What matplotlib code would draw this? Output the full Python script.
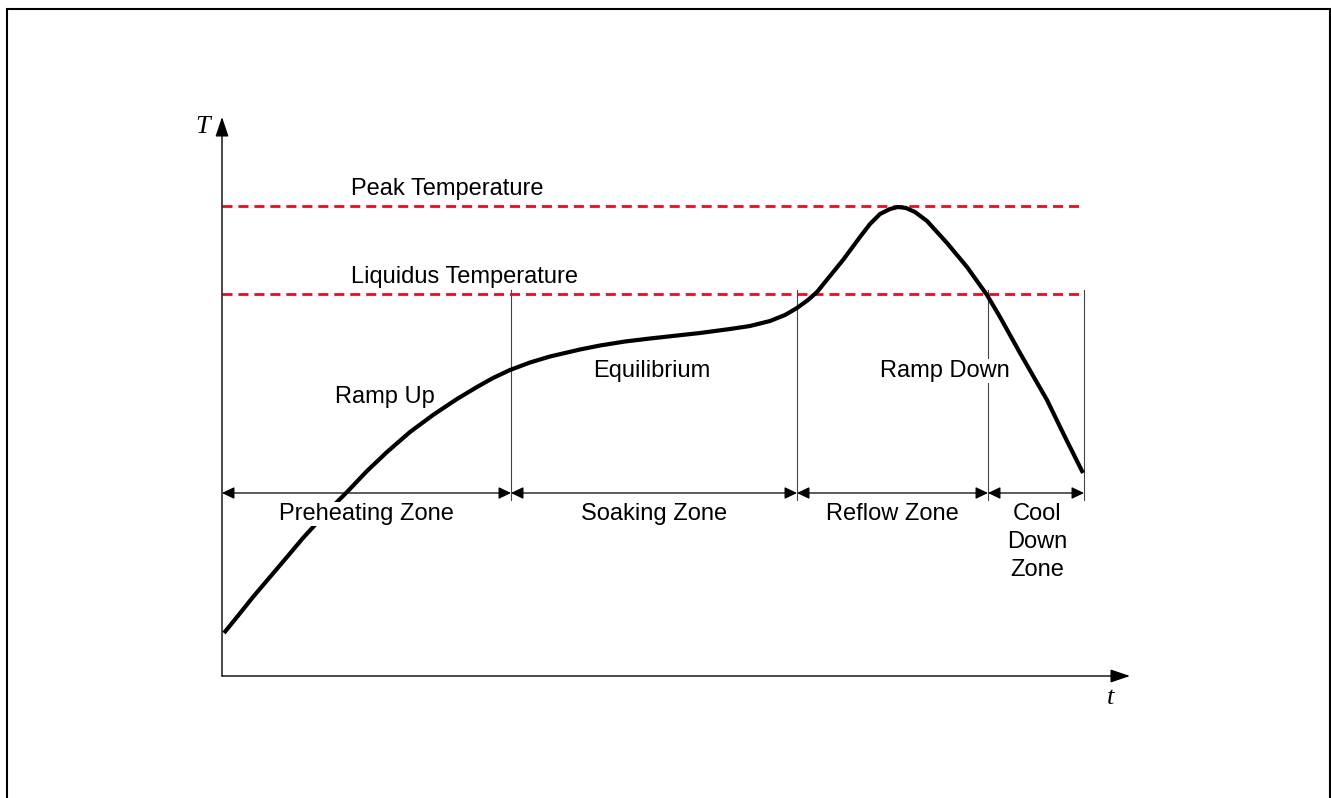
import matplotlib.pyplot as plt
from matplotlib.patches import Rectangle

# Reflow temperature profile (arbitrary units: t right, T up)
curve_t = [0.2, 1.5, 3.1, 4.8, 6.5, 8.1, 10.3, 12.5, 14.5, 16.5, 18.8, 21.1,
           23.5, 25.5, 27.1, 28.8, 30.8, 32.8, 35.8, 37.8, 40.3, 42.8, 47.8,
           50.8, 52.8, 54.8, 56.3, 57.5, 58.6, 59.5, 60.8, 62.1, 63.8, 64.8,
           65.8, 66.8, 67.6, 68.4, 69.3, 70.5, 72.5, 74.5, 76.5, 77.8, 79.8,
           82.5, 84.3, 86.1]
curve_T = [4.3, 5.9, 7.9, 9.9, 11.9, 13.8, 16.2, 18.4, 20.5, 22.4, 24.4, 26.1,
           27.7, 28.9, 29.8, 30.6, 31.35, 31.95, 32.65, 33.05, 33.45, 33.75,
           34.3, 34.7, 35.0, 35.5, 36.1, 36.8, 37.6, 38.4, 40.0, 41.6, 43.9,
           45.2, 46.2, 46.7, 46.9, 46.8, 46.4, 45.5, 43.3, 40.9, 38.1, 35.9,
           32.3, 27.6, 23.9, 20.3]

peak_T = 47.0
liquidus_T = 38.2
zone_edges = [0.0, 28.9, 57.5, 76.6, 86.2]
zone_names = ['Preheating Zone', 'Soaking Zone', 'Reflow Zone', 'Cool\nDown\nZone']
phase_names = ['Ramp Up', 'Equilibrium', 'Ramp Down']

plt.rcParams['font.family'] = ['Liberation Sans', 'DejaVu Sans']
fig = plt.figure(figsize=(13.31, 7.98), dpi=100)
ax = fig.add_axes([0, 0, 1, 1])
ax.set_xlim(-22.2, 110.9)
ax.set_ylim(-12.2, 67.6)
ax.axis('off')

# frame round the picture
fig.patches.append(Rectangle((7 / 1331, -0.05), 1323 / 1331, 1.05 - 9 / 798,
                             transform=fig.transFigure, fill=False,
                             edgecolor='black', linewidth=1.5))

# axes with arrows
head = '-|>,head_length=0.8,head_width=0.27'
ax.annotate('', xy=(90.8, 0), xytext=(0, 0),
            arrowprops=dict(arrowstyle=head, mutation_scale=15, lw=1,
                            color='black', shrinkA=0, shrinkB=0))
ax.annotate('', xy=(0, 55.9), xytext=(0, 0),
            arrowprops=dict(arrowstyle=head, mutation_scale=15, lw=1,
                            color='black', shrinkA=0, shrinkB=0))
ax.text(-1.9, 54.9, 'T', family='Liberation Serif', style='italic',
        fontsize=19, ha='center', va='center')
ax.text(88.9, -2.2, 't', family='Liberation Serif', style='italic',
        fontsize=19, ha='center', va='center')

# temperature levels
red = '#ec0a22'
for level in [peak_T, liquidus_T]:
    ax.plot([0, zone_edges[-1]], [level, level], color=red, lw=2,
            dashes=(3.6, 2.15), zorder=2)
ax.text(12.9, 48.1, 'Peak Temperature', fontsize=17, va='baseline')
ax.text(12.9, 39.3, 'Liquidus Temperature', fontsize=17, va='baseline')

# zone boundaries and dimension arrows
for x in zone_edges[1:]:
    ax.plot([x, x], [17.6, 38.6], color='#444444', lw=0.8, zorder=1)
for a, b in zip(zone_edges[:-1], zone_edges[1:]):
    ax.annotate('', xy=(b, 18.3), xytext=(a, 18.3),
                arrowprops=dict(arrowstyle='<|-|>,head_length=0.75,head_width=0.36',
                                mutation_scale=10, lw=0.9, color='black',
                                shrinkA=0, shrinkB=0))

# profile curve
ax.plot(curve_t, curve_T, color='black', lw=3, solid_capstyle='butt',
        solid_joinstyle='round', zorder=3)

box = dict(facecolor='white', edgecolor='none', pad=1)
phase_pos = [(16.3, 27.3), (43.0, 29.9), (72.3, 29.9)]
for name, (x, y) in zip(phase_names, phase_pos):
    ax.text(x, y, name, fontsize=17, ha='center', va='baseline',
            bbox=box, zorder=4)

for i, name in enumerate(zone_names[:3]):
    x = (zone_edges[i] + zone_edges[i + 1]) / 2
    ax.text(x, 15.6, name, fontsize=17, ha='center', va='baseline',
            bbox=box, zorder=4)
ax.text(81.5, 13.4, zone_names[3], fontsize=17, ha='center', va='center',
        multialignment='center', linespacing=1.35, bbox=box, zorder=4)

fig.savefig('out.png', dpi=100)
